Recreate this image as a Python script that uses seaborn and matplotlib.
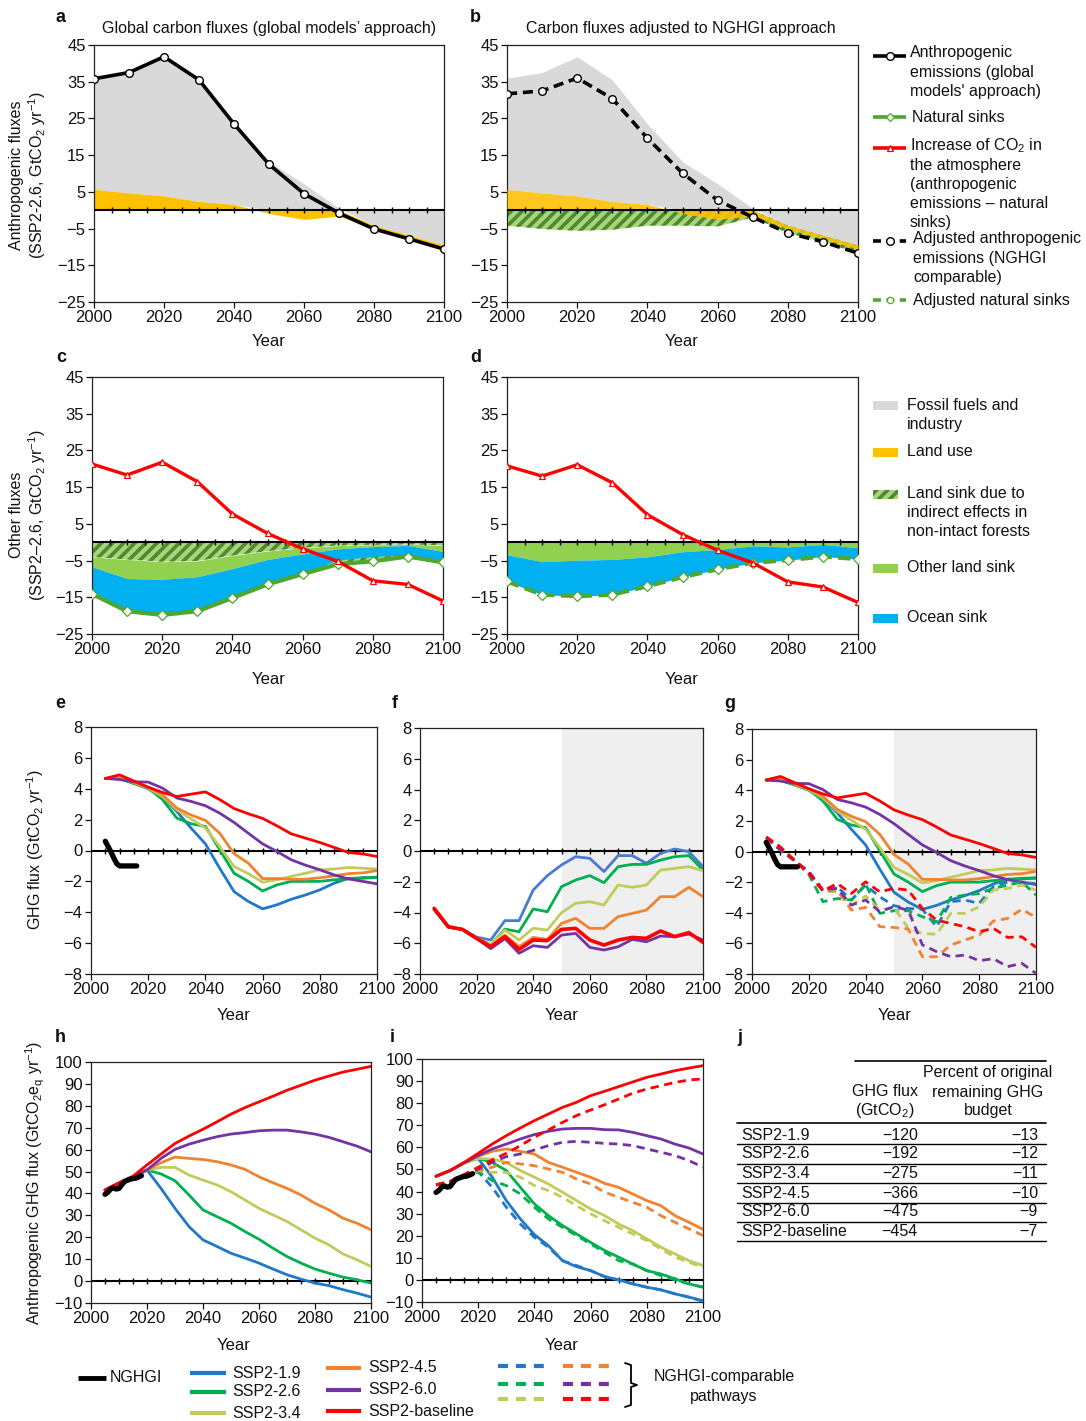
import numpy as np
import matplotlib
matplotlib.use("Agg")
import matplotlib.pyplot as plt
from matplotlib.patches import Rectangle
import seaborn as sns

# ---------------- data: panels a-d (SSP2-2.6, GtCO2/yr) ----------------
decades = [2000, 2010, 2020, 2030, 2040, 2050, 2060, 2070, 2080, 2090, 2100]
anthro_emissions = [35.8, 37.5, 41.8, 35.5, 23.5, 12.5, 4.5, -0.8, -5.1, -7.8, -10.6]
fossil_industry = [30.3, 32.8, 37.9, 33.1, 21.9, 13.2, 7.2, 0.5, -4.1, -6.8, -9.5]
land_use = [5.7, 4.7, 3.9, 2.4, 1.6, -0.9, -2.5, -1.6, -1.0, -1.0, -1.1]
adjusted_emissions = [31.7, 32.5, 36.0, 30.4, 19.6, 10.1, 2.7, -1.9, -6.2, -8.6, -11.7]
b_indirect_sink = [-4.2, -5.1, -5.6, -5.3, -4.2, -4.2, -4.4, -2.0, -2.1, -1.8, -2.2]

c_atmos_increase = [21.3, 18.3, 21.8, 16.5, 7.7, 2.4, -1.8, -5.2, -10.5, -11.5, -16.0]
c_natural_sinks = [-14.1, -18.8, -19.8, -18.8, -15.2, -11.5, -8.7, -6.0, -5.2, -3.9, -5.5]
c_indirect_sink = [-4.0, -4.7, -5.3, -5.1, -3.6, -2.4, -1.5, -0.9, -0.7, -0.6, -0.8]
c_other_land = [-2.7, -5.2, -4.8, -4.3, -3.6, -2.3, -1.7, -0.9, -0.5, -0.3, -1.7]
c_ocean = [-7.4, -8.9, -9.7, -9.4, -8.0, -6.8, -5.5, -3.2, -2.8, -2.7, -2.5]

d_atmos_increase = [20.8, 18.0, 21.1, 16.2, 7.5, 2.1, -2.2, -5.6, -10.8, -12.2, -16.4]
d_adj_natural_sinks = [-10.7, -14.3, -14.7, -14.3, -12.0, -9.5, -7.4, -5.6, -4.9, -3.9, -4.6]
d_other_land = [-3.4, -5.3, -4.9, -4.7, -4.0, -2.6, -2.0, -1.0, -1.3, -0.6, -1.5]
d_ocean = [-7.3, -9.0, -9.8, -9.6, -8.0, -6.9, -5.4, -4.6, -3.6, -3.3, -3.1]

# ---------------- data: panels e-i ----------------
scenarios = ["SSP2-1.9", "SSP2-2.6", "SSP2-3.4", "SSP2-4.5", "SSP2-6.0", "SSP2-baseline"]
years5 = list(range(2005, 2101, 5))

e_19 = [4.67, 4.65, 4.35, 4.0, 3.46, 2.53, 1.45, 0.43, -1.15, -2.66, -3.3, -3.78, -3.52, -3.16, -2.88, -2.55, -2.12, -1.8, -1.8, -1.73]
e_26 = [4.67, 4.65, 4.35, 4.05, 3.3, 2.1, 1.73, 1.56, 0.05, -1.47, -2.0, -2.62, -2.23, -2.0, -2.0, -2.0, -1.9, -1.84, -1.75, -1.73]
e_34 = [4.67, 4.7, 4.4, 4.05, 3.5, 2.64, 2.05, 1.45, 0.26, -1.04, -1.5, -2.05, -1.9, -1.68, -1.47, -1.25, -1.2, -1.1, -1.15, -1.2]
e_45 = [4.67, 4.7, 4.4, 4.1, 3.6, 2.75, 2.3, 1.95, 1.12, -0.2, -0.82, -1.82, -1.82, -1.86, -1.86, -1.77, -1.64, -1.5, -1.45, -1.3]
e_60 = [4.67, 4.6, 4.45, 4.43, 4.04, 3.4, 3.18, 2.9, 2.42, 1.82, 1.12, 0.43, -0.06, -0.6, -0.95, -1.25, -1.58, -1.84, -2.0, -2.16]
e_base = [4.67, 4.9, 4.5, 4.1, 3.76, 3.5, 3.65, 3.8, 3.3, 2.72, 2.38, 2.08, 1.6, 1.08, 0.8, 0.52, 0.2, -0.13, -0.22, -0.39]

f_19 = [-3.8, -4.95, -5.1, -5.6, -5.79, -4.53, -4.53, -2.54, -1.6, -0.91, -0.37, -0.48, -1.34, -0.3, -0.3, -0.8, -0.15, 0.13, -0.04, -1.02]
f_26 = [-3.8, -4.95, -5.1, -5.65, -6.1, -5.08, -5.25, -3.77, -3.95, -2.32, -1.89, -1.6, -2.06, -1.02, -0.87, -0.87, -0.59, -0.37, -0.3, -1.24]
f_34 = [-3.75, -4.95, -5.1, -5.65, -6.1, -5.14, -5.79, -5.03, -5.14, -4.01, -3.4, -3.3, -3.51, -2.21, -2.36, -2.21, -1.24, -1.13, -1.02, -1.28]
f_45 = [-3.75, -4.95, -5.1, -5.65, -6.2, -5.47, -6.22, -5.62, -5.75, -4.71, -4.38, -5.03, -5.03, -4.27, -4.06, -3.84, -2.97, -2.97, -2.36, -2.97]
f_60 = [-3.8, -4.95, -5.1, -5.7, -6.35, -5.7, -6.65, -6.16, -6.27, -5.47, -5.36, -6.27, -6.44, -6.23, -5.75, -5.9, -5.53, -5.57, -5.4, -5.79]
f_base = [-3.73, -4.92, -5.1, -5.68, -6.22, -5.57, -6.4, -5.79, -5.83, -5.1, -5.03, -5.79, -6.12, -5.79, -5.62, -5.68, -5.2, -5.57, -5.31, -5.94]

g_19 = [0.9, 0.1, -0.6, -1.4, -2.6, -2.3, -3.17, -2.2, -2.96, -3.54, -3.72, -3.78, -4.91, -3.28, -3.17, -3.39, -2.3, -1.98, -2.04, -2.09]
g_26 = [0.9, 0.1, -0.6, -1.5, -3.28, -3.07, -3.17, -2.13, -4.04, -3.87, -3.87, -4.26, -4.59, -3.0, -2.85, -2.74, -2.41, -2.2, -1.98, -2.85]
g_34 = [0.9, 0.1, -0.6, -1.4, -2.6, -2.63, -3.5, -2.91, -3.83, -3.65, -5.02, -5.35, -5.41, -4.04, -4.04, -3.61, -2.52, -2.41, -2.2, -2.52]
g_45 = [0.9, 0.1, -0.6, -1.4, -2.6, -2.52, -3.83, -3.65, -4.91, -4.96, -5.07, -6.87, -6.87, -6.11, -5.78, -5.46, -4.54, -4.37, -3.78, -4.3]
g_60 = [0.9, 0.1, -0.6, -1.3, -2.5, -2.41, -3.5, -3.17, -3.93, -3.6, -3.83, -6.1, -6.54, -6.87, -6.76, -7.13, -7.0, -7.52, -7.3, -7.96]
g_base = [0.96, 0.3, -0.57, -1.43, -2.57, -2.09, -2.74, -1.98, -2.63, -2.41, -2.52, -3.72, -4.48, -4.7, -4.91, -5.24, -5.02, -5.61, -5.57, -6.26]

nghgi_years_e = list(range(2005, 2017))
nghgi_flux_e = [0.6, 0.25, -0.1, -0.5, -0.85, -1.0, -1.0, -1.0, -1.0, -1.0, -1.0, -1.0]

h_19 = [41.5, 44.5, 47.5, 50.7, 42.3, 33.2, 24.9, 18.8, 15.8, 12.7, 10.5, 8.2, 5.5, 2.9, 0.9, -0.9, -2.1, -3.9, -5.5, -7.3]
h_26 = [41.5, 44.5, 47.5, 50.7, 48.9, 45.8, 39.3, 32.5, 29.4, 26.4, 22.6, 19.1, 15.0, 11.2, 8.2, 5.5, 3.6, 1.8, 0.6, -0.9]
h_34 = [41.5, 44.5, 47.5, 50.7, 51.9, 51.9, 48.4, 46.1, 43.9, 40.8, 37.0, 33.2, 30.2, 27.2, 23.4, 19.6, 16.5, 12.4, 9.7, 6.7]
h_45 = [41.5, 44.5, 47.5, 50.7, 54.0, 56.6, 56.0, 55.5, 54.5, 53.0, 51.0, 47.6, 44.9, 42.3, 39.3, 35.5, 32.5, 28.7, 26.4, 23.4]
h_60 = [41.6, 44.8, 47.7, 50.7, 56.0, 60.1, 62.5, 64.3, 65.9, 67.1, 67.8, 68.6, 68.9, 68.9, 68.1, 67.1, 65.6, 63.6, 61.6, 59.0]
h_base = [41.6, 44.9, 47.9, 53.0, 58.0, 62.8, 66.2, 69.3, 72.7, 76.2, 79.2, 81.8, 84.4, 87.1, 89.4, 91.7, 93.6, 95.4, 96.7, 98.0]

i_19 = [47.0, 49.5, 53.0, 55.0, 46.5, 35.9, 27.6, 20.5, 15.5, 8.7, 6.0, 4.2, 1.5, 0.0, -1.8, -3.3, -4.5, -6.3, -7.8, -9.4]
i_26 = [47.0, 49.5, 53.0, 55.0, 53.2, 49.5, 41.9, 34.4, 29.1, 24.6, 20.8, 17.0, 13.3, 10.3, 7.2, 4.2, 2.7, 0.5, -1.8, -3.3]
i_34 = [47.0, 49.5, 53.0, 55.0, 54.7, 53.2, 49.5, 46.5, 43.4, 39.7, 35.9, 32.1, 29.1, 25.3, 22.3, 18.6, 14.8, 11.8, 8.7, 6.5]
i_45 = [47.0, 49.5, 53.0, 56.0, 58.2, 59.3, 58.2, 57.0, 53.2, 51.0, 48.7, 46.5, 43.7, 41.9, 38.9, 35.9, 33.6, 29.1, 26.1, 22.9]
i_60 = [47.0, 49.5, 53.0, 56.3, 59.3, 61.5, 63.8, 65.8, 67.3, 68.3, 68.6, 68.6, 68.0, 67.9, 66.8, 65.3, 63.8, 61.5, 59.7, 57.0]
i_base = [46.8, 49.5, 53.2, 57.3, 61.5, 65.3, 68.8, 72.1, 75.1, 78.1, 80.4, 83.4, 85.4, 87.5, 89.6, 91.7, 93.2, 94.7, 95.9, 97.0]

id_19 = [43.0, 44.5, 47.5, 49.0, 41.9, 32.9, 25.3, 19.3, 14.8, 8.7, 6.5, 4.2, 1.5, 0.0, -1.8, -3.3, -4.5, -6.3, -7.8, -9.7]
id_26 = [43.0, 44.5, 47.5, 49.0, 45.0, 42.7, 38.9, 32.9, 27.6, 23.8, 20.1, 16.3, 12.5, 8.7, 7.2, 4.2, 2.0, 0.0, -1.8, -3.3]
id_34 = [43.0, 44.5, 47.5, 49.5, 48.7, 48.7, 46.5, 42.7, 40.4, 37.4, 33.6, 29.9, 26.8, 23.8, 20.8, 17.8, 14.0, 10.3, 8.0, 5.7]
id_45 = [43.0, 44.5, 47.5, 49.5, 51.0, 53.2, 52.5, 51.7, 50.2, 48.7, 45.7, 43.4, 39.7, 37.4, 35.1, 32.9, 29.1, 26.1, 23.1, 20.1]
id_60 = [43.0, 44.5, 47.5, 50.2, 53.2, 55.8, 57.0, 58.8, 60.8, 62.3, 62.7, 62.3, 61.8, 61.5, 60.8, 59.3, 57.8, 56.3, 54.0, 51.0]
id_base = [43.1, 44.6, 47.7, 51.0, 54.3, 57.3, 60.8, 64.6, 67.9, 71.3, 74.4, 76.9, 79.3, 81.9, 84.5, 86.4, 87.9, 89.4, 90.5, 91.0]

nghgi_years_h = list(range(2005, 2019))
nghgi_flux_h = [39.6, 40.5, 42.0, 42.5, 42.0, 42.3, 44.0, 45.5, 46.0, 46.5, 46.8, 47.0, 47.5, 48.1]

# ---------------- data: table j ----------------
table_scenarios = ["SSP2-1.9", "SSP2-2.6", "SSP2-3.4", "SSP2-4.5", "SSP2-6.0", "SSP2-baseline"]
table_ghg_flux = [-120, -192, -275, -366, -475, -454]
table_percent = [-13, -12, -11, -10, -9, -7]

# ---------------- style ----------------
sns.set_theme(style="ticks")
plt.rcParams["font.family"] = ["Liberation Sans", "DejaVu Sans"]
plt.rcParams["mathtext.fontset"] = "custom"
plt.rcParams["mathtext.rm"] = "Liberation Sans"
plt.rcParams["mathtext.it"] = "Liberation Sans:italic"
plt.rcParams["mathtext.default"] = "regular"
plt.rcParams["hatch.linewidth"] = 2.6
HATCH_DARK = "#4E8A2C"
plt.rcParams["hatch.color"] = HATCH_DARK

GREY = "#D9D9D9"
YELLOW = "#FFC000"
LGREEN = "#92D050"
HATCH_BG = "#A9D47E"
OCEAN = "#00B0F0"
SINKGREEN = "#4EA72E"
RED = "#FF0000"
SC_COLORS = ["#1F78C8", "#00B050", "#C3CA5C", "#F0832F", "#7532A3", "#FF0000"]
F_COLORS = ["#4A7BD0", "#00B050", "#C3CA5C", "#F0832F", "#7532A3", "#FF0000"]
TXT = "#111111"
HATCH = "///"

W, H = 1086, 1421
fig = plt.figure(figsize=(W / 100, H / 100), dpi=100)


def add_ax(l, t, r, b):
    return fig.add_axes([l / W, 1 - b / H, (r - l) / W, (b - t) / H])


def style(ax, ylim, yticks):
    ax.set_xlim(2000, 2100)
    ax.set_ylim(*ylim)
    ax.set_xticks(range(2000, 2101, 20))
    ax.set_yticks(yticks)
    ax.tick_params(direction="out", length=4, width=0.9, labelsize=12, pad=2, colors=TXT)
    for s in ax.spines.values():
        s.set_linewidth(0.9)
        s.set_color("#222222")
    ax.set_xlabel("")
    ax.set_ylabel("")
    ax.grid(False)


def zero_line(ax):
    ax.axhline(0, color="black", lw=1.5, zorder=4)
    zt = np.arange(2005, 2100, 5)
    ax.plot(zt, np.zeros_like(zt), ls="none", marker="|", ms=4.5, mew=1.0, color="black", zorder=4)


def line(ax, x, y, **kw):
    sns.lineplot(x=x, y=y, ax=ax, estimator=None, sort=False, **kw)


yr = np.array(decades, dtype=float)
ffi = np.array(fossil_industry)
lu = np.array(land_use)
pos_base = np.where(lu > 0, lu, 0.0)
neg_base = np.minimum(ffi, 0.0)
grey_lo = np.where(ffi > 0, pos_base, 0.0)
grey_hi = np.where(ffi > 0, pos_base + ffi, ffi)
yel_lo = np.where(lu > 0, 0.0, neg_base)
yel_hi = np.where(lu > 0, lu, neg_base + lu)

# ---------------- panel a ----------------
ax_a = add_ax(94, 45, 444, 302)
ax_a.fill_between(yr, grey_lo, grey_hi, color=GREY, lw=0, zorder=1)
ax_a.fill_between(yr, yel_lo, yel_hi, color=YELLOW, lw=0, zorder=2)
zero_line(ax_a)
line(ax_a, decades, anthro_emissions, color="black", lw=2.6, marker="o", ms=5.5,
     markerfacecolor="white", markeredgecolor="black", markeredgewidth=1.0, zorder=5)
style(ax_a, (-25, 45), range(-25, 46, 10))

# ---------------- panel b ----------------
ax_b = add_ax(507, 45, 858, 302)
b_ind = np.array(b_indirect_sink)
ax_b.fill_between(yr, neg_base, neg_base + b_ind, facecolor=HATCH_BG, edgecolor=HATCH_DARK,
                  hatch=HATCH, lw=0, zorder=1)
ax_b.fill_between(yr, grey_lo, grey_hi, color=GREY, lw=0, zorder=2)
ax_b.fill_between(yr, yel_lo, yel_hi, color=YELLOW, alpha=0.88, lw=0, zorder=3)
zero_line(ax_b)
line(ax_b, decades, adjusted_emissions, color="black", lw=2.6, linestyle=(0, (2.8, 1.6)),
     marker="o", ms=5.5, markerfacecolor="white", markeredgecolor="black",
     markeredgewidth=1.0, zorder=5)
style(ax_b, (-25, 45), range(-25, 46, 10))

# ---------------- panel c ----------------
ax_c = add_ax(92, 377, 443, 634)
l1 = np.array(c_indirect_sink)
l2 = l1 + np.array(c_other_land)
l3 = l2 + np.array(c_ocean)
nat = np.array(c_natural_sinks)
ax_c.fill_between(yr, 0, l1, facecolor=HATCH_BG, edgecolor=HATCH_DARK, hatch=HATCH, lw=0, zorder=1)
ax_c.fill_between(yr, l1, l2, color=LGREEN, lw=0, zorder=1)
ax_c.fill_between(yr, l2, l3, color=OCEAN, lw=0, zorder=1)
ax_c.fill_between(yr, l3, np.minimum(nat, l3), facecolor=HATCH_BG, edgecolor=HATCH_DARK,
                  hatch=HATCH, lw=0, zorder=1)
zero_line(ax_c)
line(ax_c, decades, c_natural_sinks, color=SINKGREEN, lw=3.0, marker="D", ms=5,
     markerfacecolor="white", markeredgecolor=SINKGREEN, markeredgewidth=0.9, zorder=5)
line(ax_c, decades, c_atmos_increase, color=RED, lw=2.4, marker="^", ms=5,
     markerfacecolor="white", markeredgecolor=RED, markeredgewidth=0.9, zorder=6)
style(ax_c, (-25, 45), range(-25, 46, 10))

# ---------------- panel d ----------------
ax_d = add_ax(507, 377, 858, 634)
m1 = np.array(d_other_land)
m2 = m1 + np.array(d_ocean)
ax_d.fill_between(yr, 0, m1, color=LGREEN, lw=0, zorder=1)
ax_d.fill_between(yr, m1, m2, color=OCEAN, lw=0, zorder=1)
zero_line(ax_d)
line(ax_d, decades, d_adj_natural_sinks, color=SINKGREEN, lw=3.0, linestyle=(0, (3, 1.5)),
     marker="D", ms=5, markerfacecolor="white", markeredgecolor=SINKGREEN,
     markeredgewidth=0.9, zorder=5)
line(ax_d, decades, d_atmos_increase, color=RED, lw=2.4, marker="^", ms=5,
     markerfacecolor="white", markeredgecolor=RED, markeredgewidth=0.9, zorder=6)
style(ax_d, (-25, 45), range(-25, 46, 10))

DASH = (0, (3, 2))

# ---------------- panel e ----------------
ax_e = add_ax(91, 727, 377, 974)
zero_line(ax_e)
for vals, col in zip([e_19, e_26, e_34, e_45, e_60, e_base], SC_COLORS):
    line(ax_e, years5, vals, color=col, lw=2.0, zorder=5)
line(ax_e, nghgi_years_e, nghgi_flux_e, color="black", lw=3.8, zorder=6,
     solid_capstyle="round", solid_joinstyle="round")
style(ax_e, (-8, 8), range(-8, 9, 2))

# ---------------- panel f ----------------
ax_f = add_ax(420, 728, 703, 974)
ax_f.axvspan(2050, 2100, color="#EFEFEF", lw=0, zorder=0)
zero_line(ax_f)
for vals, col in zip([f_19, f_26, f_34, f_45, f_60, f_base], F_COLORS):
    lw = 2.6 if col == "#FF0000" else 2.0
    line(ax_f, years5, vals, color=col, lw=lw, zorder=5)
style(ax_f, (-8, 8), range(-8, 9, 2))

# ---------------- panel g ----------------
ax_g = add_ax(752, 729, 1036, 974)
ax_g.axvspan(2050, 2100, color="#EFEFEF", lw=0, zorder=0)
zero_line(ax_g)
for vals, col in zip([e_19, e_26, e_34, e_45, e_60, e_base], SC_COLORS):
    line(ax_g, years5, vals, color=col, lw=2.0, zorder=5)
for vals, col in zip([g_19, g_26, g_34, g_45, g_60, g_base], SC_COLORS):
    line(ax_g, years5, vals, color=col, lw=2.0, linestyle=DASH, zorder=5)
line(ax_g, nghgi_years_e, nghgi_flux_e, color="black", lw=3.8, zorder=6,
     solid_capstyle="round", solid_joinstyle="round")
style(ax_g, (-8, 8), range(-8, 9, 2))

# ---------------- panel h ----------------
ax_h = add_ax(91, 1062, 371, 1303)
zero_line(ax_h)
for vals, col in zip([h_19, h_26, h_34, h_45, h_60, h_base], SC_COLORS):
    line(ax_h, years5, vals, color=col, lw=2.0, zorder=5)
line(ax_h, nghgi_years_h, nghgi_flux_h, color="black", lw=3.8, zorder=6,
     solid_capstyle="round", solid_joinstyle="round")
style(ax_h, (-10, 100), range(-10, 101, 10))

# ---------------- panel i ----------------
ax_i = add_ax(422, 1059, 703, 1302)
zero_line(ax_i)
for vals, col in zip([i_19, i_26, i_34, i_45, i_60, i_base], SC_COLORS):
    line(ax_i, years5, vals, color=col, lw=2.0, zorder=5)
for vals, col in zip([id_19, id_26, id_34, id_45, id_60, id_base], SC_COLORS):
    line(ax_i, years5, vals, color=col, lw=2.0, linestyle=DASH, zorder=5)
line(ax_i, nghgi_years_h, nghgi_flux_h, color="black", lw=3.8, zorder=6,
     solid_capstyle="round", solid_joinstyle="round")
style(ax_i, (-10, 100), range(-10, 101, 10))

# ---------------- overlay (text, legends, table) ----------------
ov = fig.add_axes([0, 0, 1, 1], zorder=10)
ov.set_xlim(0, W)
ov.set_ylim(H, 0)
ov.axis("off")
ov.patch.set_alpha(0)


def t(x, y, s, size=11.5, ha="left", va="center", **kw):
    ov.text(x, y, s, fontsize=size, ha=ha, va=va, color=TXT, **kw)


# panel letters
for lab, x, y in [("a", 56, 17), ("b", 470, 17), ("c", 56, 357), ("d", 470, 357),
                  ("e", 55, 703), ("f", 392, 703), ("g", 724, 703),
                  ("h", 55, 1037), ("i", 390, 1037), ("j", 737, 1037)]:
    t(x, y, lab, size=13, fontweight="bold")

# titles
t(269, 29, "Global carbon fluxes (global models\u2019 approach)", size=11.5, ha="center")
t(681, 29, "Carbon fluxes adjusted to NGHGI approach", size=11.5, ha="center")

# Year labels
for x, y in [(269, 341), (682, 341), (269, 679), (682, 679),
             (234, 1015), (562, 1015), (895, 1015), (234, 1345), (562, 1345)]:
    t(x, y, "Year", size=12, ha="center")

# y labels
t(17, 175, "Anthropogenic fluxes", size=11.5, ha="center", rotation=90)
t(37, 175, "(SSP2-2.6, GtCO$_2$ yr$^{-1}$)", size=11.5, ha="center", rotation=90)
t(17, 515, "Other fluxes", size=11.5, ha="center", rotation=90)
t(37, 515, "(SSP2\u20132.6, GtCO$_2$ yr$^{-1}$)", size=11.5, ha="center", rotation=90)
t(35, 850, "GHG flux (GtCO$_2$ yr$^{-1}$)", size=11.5, ha="center", rotation=90)
t(35, 1183, "Anthropogenic GHG flux (GtCO$_2$e$_q$ yr$^{-1}$)", size=11.5, ha="center", rotation=90)

# legend for panel b
hx0, hx1, hxm = 873, 906, 889.5
ov.plot([hx0, hx1], [56, 56], color="black", lw=2.6, solid_capstyle="butt")
ov.plot([hxm], [56], marker="o", ms=5.5, mfc="white", mec="black", mew=1.0)
for k, s in enumerate(["Anthropogenic", "emissions (global", "models' approach)"]):
    t(910, 53 + 19.3 * k, s)
ov.plot([hx0, hx1], [117, 117], color=SINKGREEN, lw=2.6, solid_capstyle="butt")
ov.plot([hxm], [117], marker="D", ms=4.5, mfc="white", mec=SINKGREEN, mew=0.9)
t(912, 117, "Natural sinks")
ov.plot([hx0, hx1], [148, 148], color=RED, lw=2.6, solid_capstyle="butt")
ov.plot([hxm], [148], marker="^", ms=4.5, mfc="white", mec=RED, mew=0.9)
for k, s in enumerate(["Increase of CO$_2$ in", "the atmosphere", "(anthropogenic",
                       "emissions \u2013 natural", "sinks)"]):
    t(910, 146 + 19.1 * k, s)
ov.plot([hx0, hx1], [241, 241], color="black", lw=2.6, linestyle=(0, (2.2, 1.5)))
ov.plot([hxm], [241], marker="o", ms=5.5, mfc="white", mec="black", mew=1.0)
for k, s in enumerate(["Adjusted anthropogenic", "emissions (NGHGI", "comparable)"]):
    t(913, 239 + 19.3 * k, s)
ov.plot([hx0, hx1], [300, 300], color=SINKGREEN, lw=2.6, linestyle=(0, (2.2, 1.5)))
ov.plot([hxm], [300], marker="o", ms=4.5, mfc="white", mec=SINKGREEN, mew=0.9)
t(913, 300, "Adjusted natural sinks")

# legend for panel d
px0, pw, ph = 873, 25, 9
ov.add_patch(Rectangle((px0, 405 - ph / 2), pw, ph, facecolor=GREY, lw=0))
ov.add_patch(Rectangle((px0, 452 - ph / 2), pw, ph, facecolor=YELLOW, lw=0))
ov.add_patch(Rectangle((px0, 494 - ph / 2), pw, ph, facecolor=HATCH_BG, edgecolor=HATCH_DARK,
                       hatch=HATCH, lw=0))
ov.add_patch(Rectangle((px0, 568 - ph / 2), pw, ph, facecolor=LGREEN, lw=0))
ov.add_patch(Rectangle((px0, 618 - ph / 2), pw, ph, facecolor=OCEAN, lw=0))
t(907, 405, "Fossil fuels and")
t(907, 425, "industry")
t(907, 452, "Land use")
for k, s in enumerate(["Land sink due to", "indirect effects in", "non-intact forests"]):
    t(907, 493 + 19.5 * k, s)
t(907, 568, "Other land sink")
t(907, 618, "Ocean sink")

# bottom legend
ov.plot([78, 106], [1378, 1378], color="black", lw=3.5, solid_capstyle="butt")
t(110, 1378, "NGHGI", size=11.5)
for (x0, x1, y, tx), col, name in zip(
        [(190, 226, 1373, 232), (190, 226, 1392, 232), (190, 226, 1413, 232),
         (326, 361, 1368, 368), (326, 361, 1390, 368), (326, 361, 1411, 368)],
        SC_COLORS, scenarios):
    ov.plot([x0, x1], [y, y], color=col, lw=3.0, solid_capstyle="butt")
    t(tx, y, name, size=11.5)
for (x0, y), col in zip([(498, 1366), (498, 1384), (498, 1399),
                         (563, 1366), (563, 1384), (563, 1399)], SC_COLORS):
    ov.plot([x0, x0 + 48], [y, y], color=col, lw=3.0, linestyle=(0, (2.4, 1.9)),
            dash_capstyle="butt")
ov.plot([625, 631, 631, 637, 631, 631, 625], [1363, 1365, 1383, 1385, 1387, 1405, 1407],
        color="black", lw=1.3)
t(724, 1377, "NGHGI-comparable", size=11.5, ha="center")
t(724, 1397, "pathways", size=11.5, ha="center")

# table j
ov.plot([855, 1046], [1061, 1061], color="black", lw=1.2)
ov.plot([737, 1046], [1123, 1123], color="black", lw=1.2)
t(988, 1073, "Percent of original", ha="center")
t(885, 1091, "GHG flux", ha="center")
t(988, 1092, "remaining GHG", ha="center")
t(885, 1110, "(GtCO$_2$)", ha="center")
t(988, 1111, "budget", ha="center")
row_y = [1135, 1154, 1173, 1193, 1212, 1231]
rule_y = [1144, 1164, 1183, 1203, 1222, 1241]
for name, flux, pct, y, ry in zip(table_scenarios, table_ghg_flux, table_percent, row_y, rule_y):
    t(741, y, name)
    t(918, y, f"{flux}".replace("-", "\u2212"), ha="right")
    t(1038, y, f"{pct}".replace("-", "\u2212"), ha="right")
    ov.plot([737, 1046], [ry, ry], color="black", lw=1.0)

fig.savefig("out.png", dpi=100)
